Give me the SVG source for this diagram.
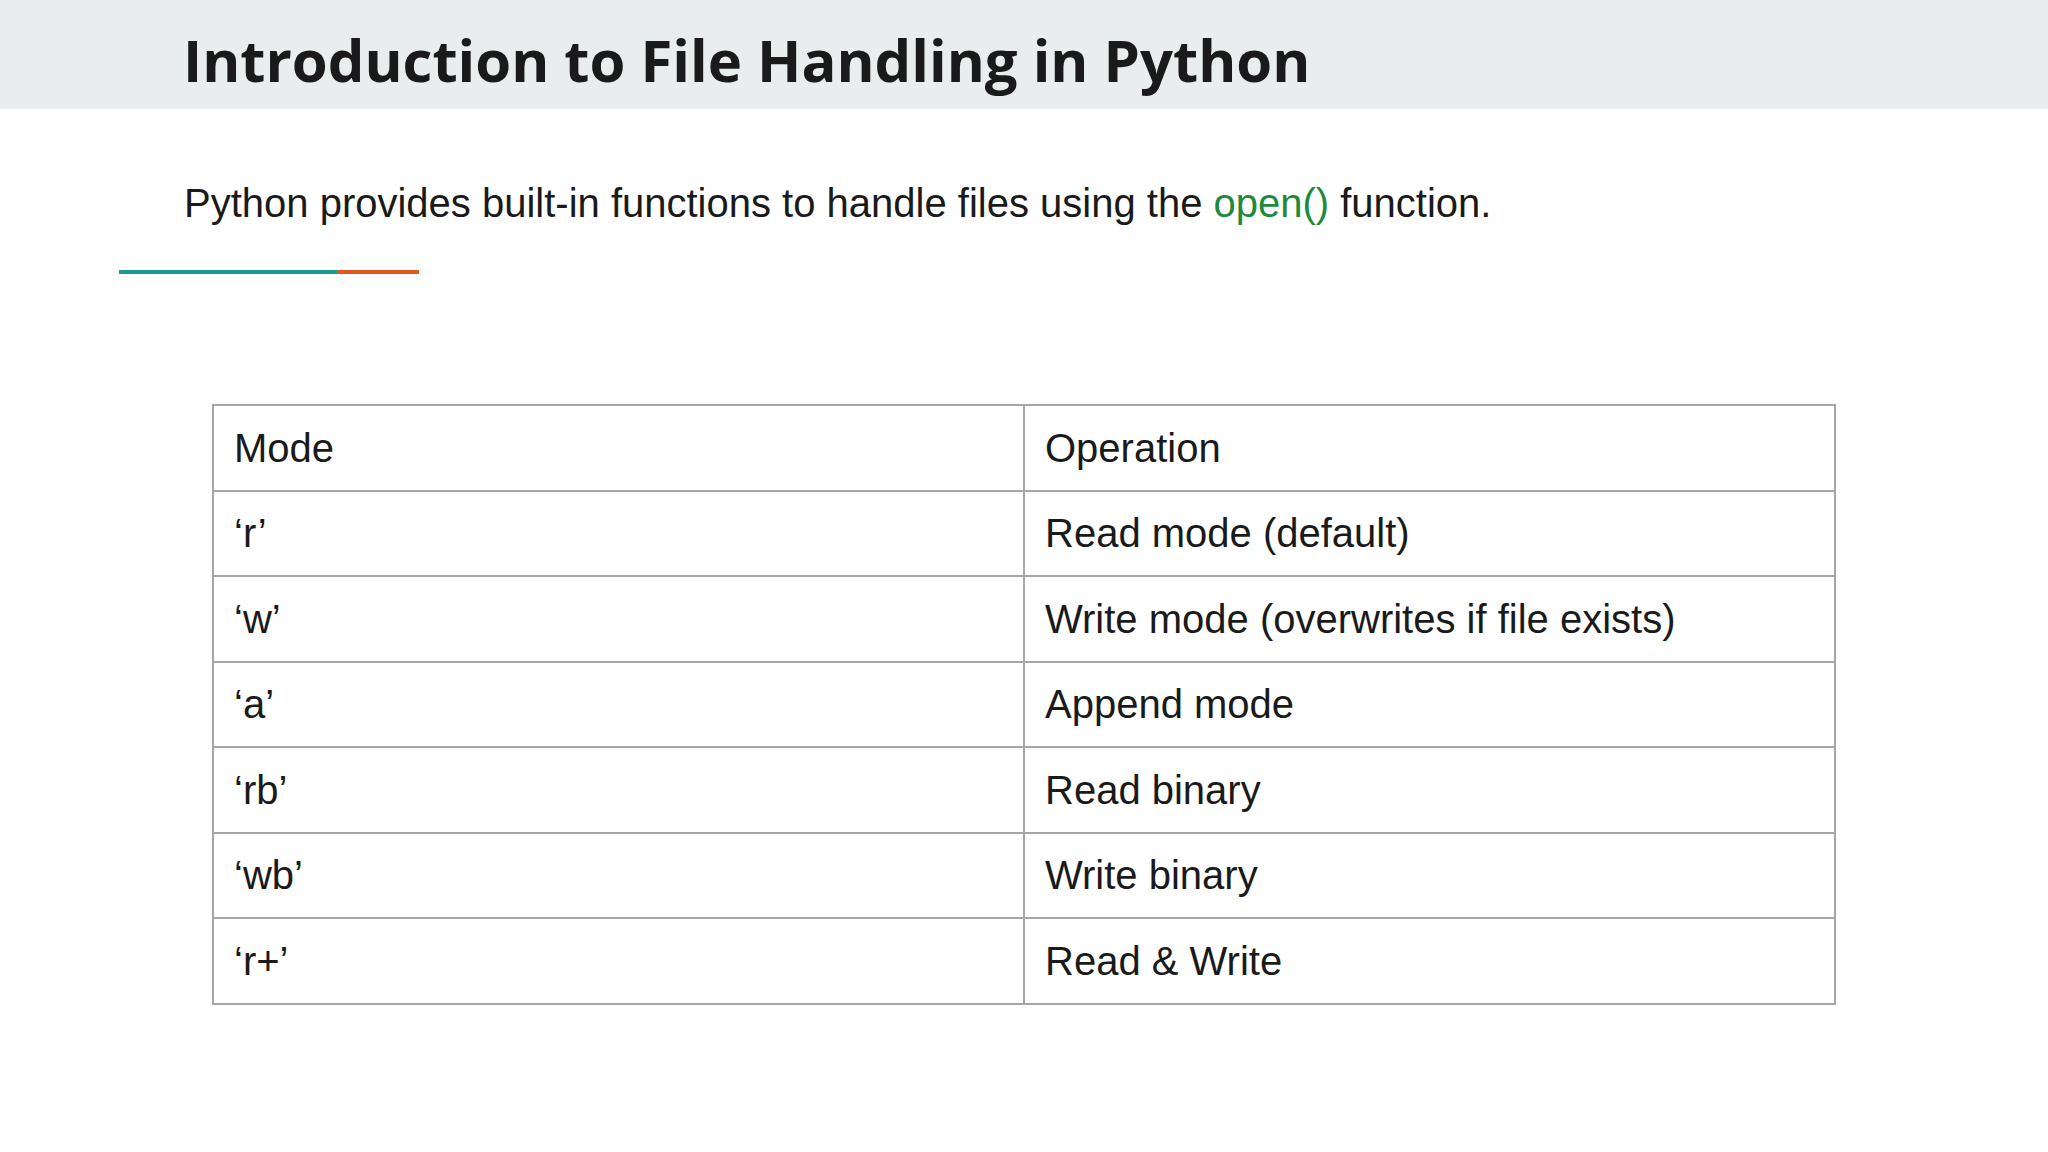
<svg xmlns="http://www.w3.org/2000/svg" width="2048" height="1152" viewBox="0 0 2048 1152">
<style>
.t{font-family:"Liberation Sans",Arial,sans-serif;font-size:40px;fill:#1a1a1a}
.g{stroke:#a6a6a6;stroke-width:2;fill:none}
</style>
<rect width="2048" height="1152" fill="#fff"/>
<rect width="2048" height="109" fill="#e9eded"/>
<text x="183" y="82" font-family="'Open Sans',sans-serif" font-weight="bold" font-size="58" fill="#1a1a1a">Introduction to File Handling in Python</text>
<text x="184" y="217" class="t">Python provides built-in functions to handle files using the <tspan fill="#1e8a3c">open()</tspan> function.</text>
<line x1="119" y1="272" x2="337" y2="272" stroke="#1e9a8a" stroke-width="4"/>
<line x1="337" y1="272" x2="419" y2="272" stroke="#e0581e" stroke-width="4"/>
<g id="table">
<rect class="g" x="213" y="405" width="1622" height="599"/>
<line class="g" x1="1024" y1="405" x2="1024" y2="1004"/>
<line class="g" x1="213" y1="491" x2="1835" y2="491"/>
<line class="g" x1="213" y1="576" x2="1835" y2="576"/>
<line class="g" x1="213" y1="662" x2="1835" y2="662"/>
<line class="g" x1="213" y1="747" x2="1835" y2="747"/>
<line class="g" x1="213" y1="833" x2="1835" y2="833"/>
<line class="g" x1="213" y1="918" x2="1835" y2="918"/>
</g>
<g id="cells">
<text class="t" x="234" y="462">Mode</text><text class="t" x="1045" y="462">Operation</text>
<text class="t" x="234" y="547">‘r’</text><text class="t" x="1045" y="547">Read mode (default)</text>
<text class="t" x="234" y="633">‘w’</text><text class="t" x="1045" y="633">Write mode (overwrites if file exists)</text>
<text class="t" x="234" y="718">‘a’</text><text class="t" x="1045" y="718">Append mode</text>
<text class="t" x="234" y="804">‘rb’</text><text class="t" x="1045" y="804">Read binary</text>
<text class="t" x="234" y="889">‘wb’</text><text class="t" x="1045" y="889">Write binary</text>
<text class="t" x="234" y="975">‘r+’</text><text class="t" x="1045" y="975">Read &amp; Write</text>
</g>
</svg>
